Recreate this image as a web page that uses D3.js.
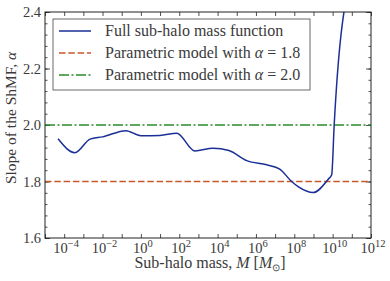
<!DOCTYPE html>
<html>
<head>
<meta charset="utf-8">
<script src="https://cdn.jsdelivr.net/npm/d3@7"></script>
<style>
  body { margin: 0; background: #fff; }
</style>
</head>
<body>
<script>
// log10 of sub-halo mass and the slope
let logMass = [-4.32, -3.44, -2.65, -2.0, -0.78, 0.0, 0.99, 1.87, 2.82, 3.76, 4.59, 5.52, 6.56, 7.24, 7.86, 8.2, 8.99, 9.77, 9.95, 10.08, 10.8];
let slope = [1.951, 1.902, 1.95, 1.958, 1.98, 1.962, 1.963, 1.971, 1.908, 1.918, 1.91, 1.874, 1.859, 1.844, 1.80, 1.782, 1.761, 1.808, 1.824, 2.0, 2.49];
let modelAlphas = [1.8, 2.0];
let seriesNames = ["Full sub-halo mass function", "Parametric model with ", "Parametric model with "];
let xTickExp = [-4, -2, 0, 2, 4, 6, 8, 10, 12];
let yTicks = [1.6, 1.8, 2.0, 2.2, 2.4];

let width = 390, height = 281;
let margin = {left: 45, right: 19, top: 12, bottom: 43};
let ink = "#222";
let textColor = "#3a3a3a";
let colors = ["#1b2f96", "#c8582a", "#2a8a2a"];

let svg = d3.select("body").append("svg")
    .attr("width", width)
    .attr("height", height)
    .attr("font-family", "Liberation Serif")
    .attr("fill", textColor);

let x = d3.scaleLog()
    .domain([1e-5, 1e12])
    .range([margin.left, width - margin.right]);

let y = d3.scaleLinear()
    .domain([1.6, 2.4])
    .range([height - margin.bottom, margin.top]);

svg.append("clipPath").attr("id", "plotclip")
    .append("rect")
    .attr("x", margin.left).attr("y", margin.top)
    .attr("width", width - margin.left - margin.right)
    .attr("height", height - margin.top - margin.bottom);

//decade ticks on x, minor 0.04 ticks on y
let decades = d3.range(-5, 13).map(function(e) { return Math.pow(10, e); });
let yMinor = d3.range(1.6, 2.4001, 0.04);

function styleAxis(g) {
    g.select(".domain").remove();
    g.selectAll("line").attr("stroke", ink).attr("stroke-width", 0.8);
}

svg.append("g")
    .attr("transform", "translate(0," + (height - margin.bottom) + ")")
    .call(d3.axisBottom(x).tickValues(decades).tickSizeInner(-4).tickSizeOuter(0).tickFormat(""))
    .call(styleAxis);
svg.append("g")
    .attr("transform", "translate(0," + margin.top + ")")
    .call(d3.axisTop(x).tickValues(decades).tickSizeInner(-4).tickSizeOuter(0).tickFormat(""))
    .call(styleAxis);
svg.append("g")
    .attr("transform", "translate(" + margin.left + ",0)")
    .call(d3.axisLeft(y).tickValues(yMinor).tickSizeInner(-2.5).tickSizeOuter(0).tickFormat(""))
    .call(styleAxis);
svg.append("g")
    .attr("transform", "translate(" + margin.left + ",0)")
    .call(d3.axisLeft(y).tickValues(yTicks).tickSizeInner(-5).tickSizeOuter(0).tickFormat(""))
    .call(styleAxis);
svg.append("g")
    .attr("transform", "translate(" + (width - margin.right) + ",0)")
    .call(d3.axisRight(y).tickValues(yMinor).tickSizeInner(-2.5).tickSizeOuter(0).tickFormat(""))
    .call(styleAxis);
svg.append("g")
    .attr("transform", "translate(" + (width - margin.right) + ",0)")
    .call(d3.axisRight(y).tickValues(yTicks).tickSizeInner(-5).tickSizeOuter(0).tickFormat(""))
    .call(styleAxis);

//tick labels
svg.selectAll(".ylab")
    .data(yTicks)
    .enter()
    .append("text")
    .attr("class", "ylab")
    .attr("x", margin.left - 4)
    .attr("y", function(d) { return y(d) + 5; })
    .attr("text-anchor", "end")
    .attr("font-size", 14.5)
    .text(function(d) { return d.toFixed(1); });

let xl = svg.selectAll(".xlab")
    .data(xTickExp)
    .enter()
    .append("text")
    .attr("class", "xlab")
    .attr("x", function(d) { return x(Math.pow(10, d)) + 2; })
    .attr("y", height - margin.bottom + 14.5)
    .attr("text-anchor", "middle")
    .attr("font-size", 14.5);
xl.append("tspan").text("10");
xl.append("tspan")
    .attr("dy", -6)
    .attr("font-size", 10.5)
    .text(function(d) { return d < 0 ? "\u2212" + (-d) : d; });

//reference lines
svg.selectAll(".model")
    .data(modelAlphas)
    .enter()
    .append("line")
    .attr("class", "model")
    .attr("x1", margin.left).attr("x2", width - margin.right)
    .attr("y1", function(d) { return y(d); })
    .attr("y2", function(d) { return y(d); })
    .attr("stroke", function(d, i) { return colors[i + 1]; })
    .attr("stroke-width", 1.5)
    .attr("stroke-dasharray", function(d, i) { return i === 0 ? "6.5,2.8" : "10,2.5,2,2.5"; });

let line = d3.line()
    .x(function(d) { return x(Math.pow(10, d)); })
    .y(function(d, i) { return y(slope[i]); })
    .curve(d3.curveMonotoneX);

svg.append("path")
    .datum(logMass)
    .attr("clip-path", "url(#plotclip)")
    .attr("d", line)
    .attr("fill", "none")
    .attr("stroke", colors[0])
    .attr("stroke-width", 1.5);

//frame
svg.append("rect")
    .attr("x", margin.left).attr("y", margin.top)
    .attr("width", width - margin.left - margin.right)
    .attr("height", height - margin.top - margin.bottom)
    .attr("fill", "none")
    .attr("stroke", ink)
    .attr("stroke-width", 1);

//legend
let legend = svg.append("g");
legend.append("rect")
    .attr("x", 53).attr("y", 19)
    .attr("width", 257).attr("height", 71)
    .attr("fill", "#fff")
    .attr("stroke", "#444")
    .attr("stroke-width", 0.8);

let rows = legend.selectAll(".row")
    .data(seriesNames)
    .enter()
    .append("g")
    .attr("class", "row")
    .attr("transform", function(d, i) { return "translate(0," + (31 + i * 22) + ")"; });

rows.append("line")
    .attr("x1", 59).attr("x2", 91)
    .attr("stroke", function(d, i) { return colors[i]; })
    .attr("stroke-width", 1.5)
    .attr("stroke-dasharray", function(d, i) { return i === 0 ? null : (i === 1 ? "6.5,2.8" : "10,2.5,2,2.5"); });

let rowText = rows.append("text")
    .attr("x", 105)
    .attr("y", 5)
    .attr("font-size", 16)
    .text(function(d) { return d; });
rowText.filter(function(d, i) { return i > 0; })
    .append("tspan")
    .attr("font-style", "italic")
    .text("\u03b1");
rowText.filter(function(d, i) { return i > 0; })
    .append("tspan")
    .text(function(d, i) { return " = " + modelAlphas[i].toFixed(1); });

//axis titles
let xt = svg.append("text")
    .attr("x", 210)
    .attr("y", 268)
    .attr("text-anchor", "middle")
    .attr("font-size", 16);
xt.append("tspan").text("Sub-halo mass, ");
xt.append("tspan").attr("font-style", "italic").text("M");
xt.append("tspan").text("  [");
xt.append("tspan").attr("font-style", "italic").text("M");
xt.append("tspan").attr("dy", 3).attr("font-size", 10).text("\u2299");
xt.append("tspan").attr("dy", -3).text("]");

let yt = svg.append("text")
    .attr("transform", "translate(16,118) rotate(-90)")
    .attr("text-anchor", "middle")
    .attr("font-size", 15.5);
yt.append("tspan").text("Slope of the ShMF, ");
yt.append("tspan").attr("font-style", "italic").text("\u03b1");
</script>
</body>
</html>
